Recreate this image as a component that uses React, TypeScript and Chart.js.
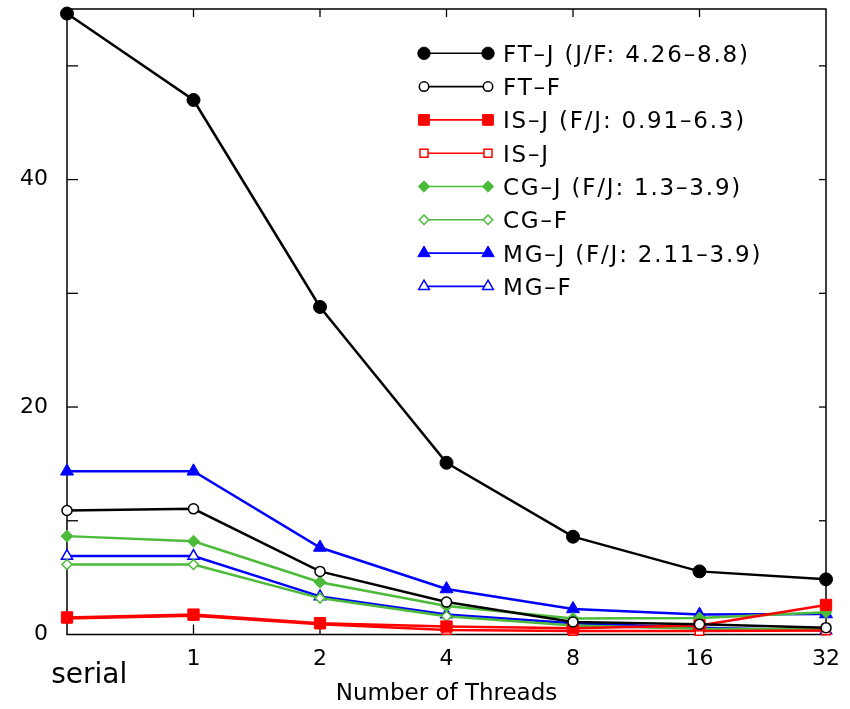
import React, { useEffect, useRef } from "react";
import { Chart, registerables } from "chart.js";

Chart.register(...registerables);

const threads = ["     serial", "1", "2", "4", "8", "16", "32"];
const yTickLabels = [0, 20, 40];

const ftJ = [54.6, 47.0, 28.8, 15.1, 8.6, 5.55, 4.85];
const ftF = [10.9, 11.05, 5.55, 2.85, 1.1, 0.9, 0.6];
const isJ = [1.5, 1.75, 1.0, 0.7, 0.55, 0.8, 2.6];
const isF = [1.4, 1.65, 0.9, 0.4, 0.3, 0.3, 0.35];
const cgJ = [8.65, 8.2, 4.6, 2.5, 1.4, 1.45, 1.95];
const cgF = [6.15, 6.15, 3.2, 1.6, 0.8, 0.5, 0.45];
const mgJ = [14.35, 14.35, 7.65, 4.0, 2.25, 1.75, 1.8];
const mgF = [6.9, 6.9, 3.35, 1.75, 1.0, 0.6, 0.35];

const legendLabels = [
  "FT–J (J/F: 4.26–8.8)",
  "FT–F",
  "IS–J (F/J: 0.91–6.3)",
  "IS–J",
  "CG–J (F/J: 1.3–3.9)",
  "CG–F",
  "MG–J (F/J: 2.11–3.9)",
  "MG–F",
];

const BLACK = "#000000";
const RED = "#ff0000";
const GREEN = "#4cbb3a";
const BLUE = "#0000ff";
const FONT = "DejaVu Sans";

function drawMarker(ctx, style, x, y, r, fill, stroke, lw) {
  ctx.beginPath();
  if (style === "circle") {
    ctx.arc(x, y, r, 0, Math.PI * 2);
  } else if (style === "rect") {
    const s = r * Math.SQRT1_2;
    ctx.rect(x - s, y - s, 2 * s, 2 * s);
  } else if (style === "rectRot") {
    ctx.moveTo(x - r, y);
    ctx.lineTo(x, y - r);
    ctx.lineTo(x + r, y);
    ctx.lineTo(x, y + r);
    ctx.closePath();
  } else if (style === "triangle") {
    const a = (2 * Math.PI) / 3;
    ctx.moveTo(x, y - r);
    ctx.lineTo(x + Math.sin(a) * r, y - Math.cos(a) * r);
    ctx.lineTo(x + Math.sin(2 * a) * r, y - Math.cos(2 * a) * r);
    ctx.closePath();
  }
  ctx.fillStyle = fill;
  ctx.fill();
  ctx.lineWidth = lw;
  ctx.strokeStyle = stroke;
  ctx.stroke();
}

const framePlugin = {
  id: "gnuFrame",
  beforeDatasetsDraw(chart) {
    const { ctx, chartArea, scales } = chart;
    const { left, right, top, bottom } = chartArea;
    const x = scales.x;
    const y = scales.y;
    ctx.save();
    ctx.strokeStyle = "#000";
    ctx.lineWidth = 1.5;
    ctx.strokeRect(left, top, right - left, bottom - top);
    ctx.lineWidth = 1.3;
    const seg = (x1, y1, x2, y2) => {
      ctx.beginPath();
      ctx.moveTo(x1, y1);
      ctx.lineTo(x2, y2);
      ctx.stroke();
    };
    y.ticks.forEach((t) => {
      if (t.value % 10 !== 0 || t.value === 0) return;
      const py = y.getPixelForValue(t.value);
      seg(left, py, left + 11, py);
      seg(right, py, right - 7, py);
    });
    x.ticks.forEach((t, i) => {
      if (i === 0 || i === x.ticks.length - 1) return;
      const px = x.getPixelForTick(i);
      seg(px, bottom, px, bottom - 10);
      seg(px, top, px, top + 8);
    });
    ctx.restore();
  },
};

const legendPlugin = {
  id: "gnuLegend",
  afterDatasetsDraw(chart) {
    const { ctx } = chart;
    const x1 = 424;
    const x2 = 488;
    const y0 = 53.3;
    const step = 33.3;
    ctx.save();
    chart.data.datasets.forEach((ds, i) => {
      const yy = y0 + i * step;
      ctx.strokeStyle = ds.borderColor;
      ctx.lineWidth = 1.6;
      ctx.beginPath();
      ctx.moveTo(x1, yy);
      ctx.lineTo(x2, yy);
      ctx.stroke();
      const r = ds.pointRadius * 0.95;
      drawMarker(ctx, ds.pointStyle, x1, yy, r, ds.pointBackgroundColor, ds.borderColor, ds.pointBorderWidth);
      drawMarker(ctx, ds.pointStyle, x2, yy, r, ds.pointBackgroundColor, ds.borderColor, ds.pointBorderWidth);
      ctx.fillStyle = "#000";
      ctx.font = `23px "${FONT}"`;
      ctx.textAlign = "left";
      ctx.textBaseline = "alphabetic";
      ctx.letterSpacing = "1.8px";
      ctx.fillText(ds.label, 503, yy + 8.5);
    });
    ctx.restore();
  },
};

function mk(label, data, color, style, radius, filled) {
  return {
    label,
    data,
    borderColor: color,
    backgroundColor: color,
    borderWidth: 2.5,
    pointStyle: style,
    pointRadius: radius,
    pointHoverRadius: radius,
    pointBackgroundColor: filled ? color : "#ffffff",
    pointBorderColor: color,
    pointBorderWidth: filled ? 1 : 1.5,
    tension: 0,
    fill: false,
    clip: false,
  };
}

function zeroPad(s) {
  s.paddingTop = 0;
  s.paddingBottom = 0;
  s.paddingLeft = 0;
  s.paddingRight = 0;
}

export default function App() {
  const ref = useRef(null);
  useEffect(() => {
    const chart = new Chart(ref.current, {
      type: "line",
      data: {
        labels: threads,
        datasets: [
          mk(legendLabels[0], ftJ, BLACK, "circle", 6.5, true),
          mk(legendLabels[1], ftF, BLACK, "circle", 5, false),
          mk(legendLabels[2], isJ, RED, "rect", 8, true),
          mk(legendLabels[3], isF, RED, "rect", 6, false),
          mk(legendLabels[4], cgJ, GREEN, "rectRot", 6, true),
          mk(legendLabels[5], cgF, GREEN, "rectRot", 5, false),
          mk(legendLabels[6], mgJ, BLUE, "triangle", 7.5, true),
          mk(legendLabels[7], mgF, BLUE, "triangle", 6.5, false),
        ],
      },
      options: {
        responsive: false,
        animation: false,
        layout: { padding: { top: 9, right: 24, left: 0, bottom: 0 } },
        plugins: { legend: { display: false }, tooltip: { enabled: false } },
        scales: {
          x: {
            type: "category",
            offset: false,
            grid: { display: false, drawTicks: false },
            border: { display: false },
            afterFit: (s) => {
              s.height = 74.5;
              zeroPad(s);
            },
            ticks: {
              autoSkip: false,
              maxRotation: 0,
              minRotation: 0,
              padding: 12,
              color: "#000",
              font: (c) =>
                c.index === 0
                  ? { family: FONT, size: 28, lineHeight: 2.06 }
                  : { family: FONT, size: 22 },
            },
            title: {
              display: true,
              text: "Number of Threads",
              color: "#000",
              font: { family: FONT, size: 23 },
              padding: { top: 0, bottom: 1 },
            },
          },
          y: {
            min: 0,
            max: 55,
            grid: { display: false, drawTicks: false },
            border: { display: false },
            afterFit: (s) => {
              s.width = 67;
              zeroPad(s);
            },
            ticks: {
              stepSize: 10,
              padding: 19,
              color: "#000",
              font: { family: FONT, size: 22 },
              callback: (v) => (yTickLabels.includes(v) ? String(v) : ""),
            },
          },
        },
      },
      plugins: [framePlugin, legendPlugin],
    });
    return () => chart.destroy();
  }, []);
  return (
    <div style={{ position: "absolute", left: 0, top: 0, width: 850, height: 709, background: "#fff" }}>
      <canvas ref={ref} width={850} height={709} />
    </div>
  );
}
